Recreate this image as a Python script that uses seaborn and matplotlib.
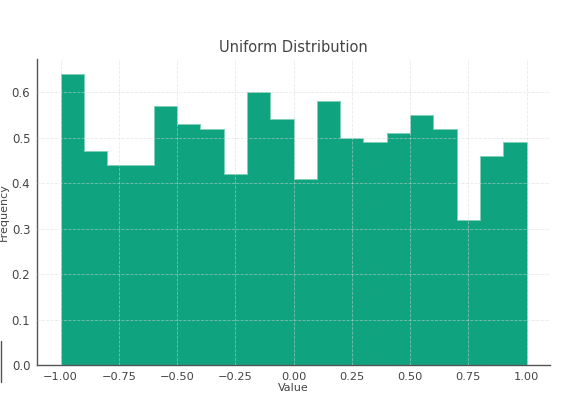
import numpy as np
import matplotlib
matplotlib.use('Agg')
import matplotlib.pyplot as plt
import seaborn as sns

# Histogram data: 20 bins over [-1, 1], density heights
bin_edges = [-1.0, -0.9, -0.8, -0.7, -0.6, -0.5, -0.4, -0.3, -0.2, -0.1, 0.0,
             0.1, 0.2, 0.3, 0.4, 0.5, 0.6, 0.7, 0.8, 0.9, 1.0]
bin_centers = [-0.95, -0.85, -0.75, -0.65, -0.55, -0.45, -0.35, -0.25, -0.15, -0.05,
               0.05, 0.15, 0.25, 0.35, 0.45, 0.55, 0.65, 0.75, 0.85, 0.95]
density = [0.64, 0.47, 0.44, 0.44, 0.57, 0.53, 0.52, 0.42, 0.60, 0.54,
           0.41, 0.58, 0.50, 0.49, 0.51, 0.55, 0.52, 0.32, 0.46, 0.49]

sns.set_style('white')
plt.rcParams['font.family'] = ['DejaVu Sans']

text_color = '#444444'
fig, ax = plt.subplots(figsize=(5.74, 3.96), dpi=100)
fig.subplots_adjust(left=0.065, right=0.958, bottom=0.078, top=0.85)

sns.histplot(x=bin_centers, weights=density, bins=bin_edges, ax=ax,
             element='step', color='#10a37f', alpha=1.0,
             edgecolor='#7fd0b7', linewidth=0.7)

ax.set_title('Uniform Distribution', fontsize=10.5, color=text_color, pad=5)
ax.set_xlabel('Value', fontsize=8, color=text_color)
ax.xaxis.set_label_coords(0.5, -0.057)
ax.set_ylabel('Frequency', fontsize=8, color=text_color)
ax.yaxis.set_label_coords(-0.055, 0.5)

ax.set_xticks([-1.0, -0.75, -0.5, -0.25, 0.0, 0.25, 0.5, 0.75, 1.0])
ax.set_xticklabels(['−1.00', '−0.75', '−0.50', '−0.25', '0.00', '0.25', '0.50', '0.75', '1.00'])
ax.set_yticks([0.0, 0.1, 0.2, 0.3, 0.4, 0.5, 0.6])
ax.tick_params(axis='both', colors=text_color, length=2.5, width=0.8, pad=2.5)
ax.tick_params(axis='x', labelsize=8.2)
ax.tick_params(axis='y', labelsize=8.5)

ax.grid(True, linestyle='--', linewidth=0.6, color='#d8d8d8', alpha=0.55)
ax.set_axisbelow(False)

sns.despine(ax=ax)
for side in ['left', 'bottom']:
    ax.spines[side].set_color('#555555')
    ax.spines[side].set_linewidth(1.0)

fig.add_artist(plt.Line2D([0.002, 0.002], [0.035, 0.14], color='#555555', linewidth=1.0))

plt.savefig('out.png', dpi=100)
plt.close()
